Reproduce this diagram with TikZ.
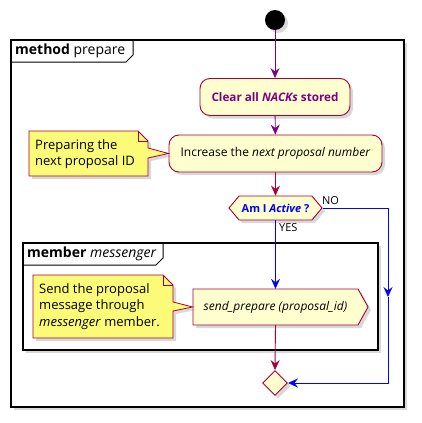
\documentclass[tikz,border=0pt]{standalone}
\usepackage{fontspec}
\setmainfont{Open Sans}
\usetikzlibrary{arrows.meta, positioning, shapes.geometric, shapes.symbols, shadows}
\definecolor{umlfill}{HTML}{FEFECE}
\definecolor{umlline}{HTML}{A80036}
\definecolor{notefill}{HTML}{FBFB77}
\definecolor{umlpurple}{HTML}{800080}

\begin{document}
\begin{tikzpicture}[x=1pt, y=-1pt,
  umlshadow/.style={drop shadow={shadow xshift=3pt, shadow yshift=-3pt, opacity=.3}},
  action/.style={rectangle, rounded corners=10pt, draw=umlline, fill=umlfill, line width=.9pt, minimum height=37pt, inner sep=0pt, font=\fontsize{12}{14}\selectfont, umlshadow},
  notetext/.style={anchor=west, align=left, inner sep=0pt, font=\fontsize{13}{16.5}\selectfont},
  frame/.style={draw=black, line width=1.6pt, fill=white, umlshadow},
  framelbl/.style={anchor=west, inner sep=0pt, font=\fontsize{14}{16}\selectfont},
  flow/.style={draw=umlpurple, line width=.9pt, -{Stealth[length=10pt, width=9pt, inset=3.5pt]}},
  redflow/.style={flow, draw=umlline},
  blueflow/.style={flow, draw=blue},
  small/.style={font=\fontsize{11}{13}\selectfont}]
  \useasboundingbox (0,0) rectangle (421,423);

  % frames
  \path[frame] (11,40) rectangle (404,407);
  \draw[line width=1pt] (11,62) -- (126,62) -- (133,55) -- (133,40);
  \node[framelbl] (methodlbl) at (15,51) {\textbf{method} prepare};

  \path[frame] (23,243) rectangle (378,350);
  \draw[line width=1pt] (23,265) -- (156,265) -- (163,258) -- (163,243);
  \node[framelbl] (memberlbl) at (27,254) {\textbf{member} \textit{messenger}};

  % nodes
  \node[circle, fill=black, minimum size=20pt, inner sep=0pt, umlshadow] (start) at (275,20) {};
  \node[action, minimum width=150pt, text=umlpurple, font=\fontsize{11.7}{14}\selectfont\bfseries] (clear) at (275,97) {Clear all \textit{NACKs} stored};
  \node[action, minimum width=213pt] (increase) at (275.5,153.5) {Increase the \textit{next proposal number}};
  \node[signal, signal to=east and west, signal pointer angle=100, draw=umlline, fill=umlfill, line width=.9pt, minimum width=93pt, minimum height=24pt, inner sep=0pt, text=blue, font=\fontsize{11}{13}\selectfont\bfseries, umlshadow] (active) at (275.5,208) {Am I \textit{Active} ?};

  \filldraw[draw=umlline, fill=umlfill, line width=.9pt, umlshadow] (193,289) -- (358,289) -- (368,307) -- (358,325) -- (193,325) -- cycle;
  \node[minimum width=165pt, minimum height=36pt, inner sep=0pt, font=\fontsize{12}{14}\selectfont] (sendprep) at (275.5,307) {\textit{send\_prepare (proposal\_id)}};

  \node[diamond, draw=umlline, fill=umlfill, line width=.9pt, minimum size=25pt, inner sep=0pt, umlshadow] (merge) at (275,383) {};

  % notes
  \filldraw[draw=umlline, fill=notefill, line width=.8pt, umlshadow] (29,131) -- (138,131) -- (148,141) -- (148,148) -- (increase.west) -- (148,158) -- (148,176) -- (29,176) -- cycle;
  \draw[umlline, line width=.8pt] (138,131) -- (138,141) -- (148,141);
  \node[notetext] (prepnote) at (35,154) {Preparing the\\next proposal ID};

  \filldraw[draw=umlline, fill=notefill, line width=.8pt, umlshadow] (33,275) -- (163,275) -- (173,285) -- (173,302) -- (sendprep.west) -- (173,311) -- (173,338) -- (33,338) -- cycle;
  \draw[umlline, line width=.8pt] (163,275) -- (163,285) -- (173,285);
  \node[notetext] (sendnote) at (39,306.5) {Send the proposal\\message through\\\textit{messenger} member.};

  % connectors
  \coordinate (noturn) at (388,208);
  \coordinate (nomid) at (388,297);
  \coordinate (nodown) at (388,383);

  \draw[flow] (start) -- (clear);
  \draw[flow] (clear) -- (increase);
  \draw[redflow] (increase) -- (active);
  \draw[blueflow] (active.south) -- (sendprep.north);
  \draw[redflow] (sendprep.south) -- (merge.north);
  \draw[blueflow] (active.east) -- (noturn) -- (nomid);
  \draw[blueflow] (nomid) -- (nodown) -- (merge.east);

  \node[anchor=west, inner sep=0pt, small] (nolbl) at (322,201) {NO};
  \node[anchor=west, inner sep=0pt, small] (yeslbl) at (279,228) {YES};
\end{tikzpicture}
\end{document}
